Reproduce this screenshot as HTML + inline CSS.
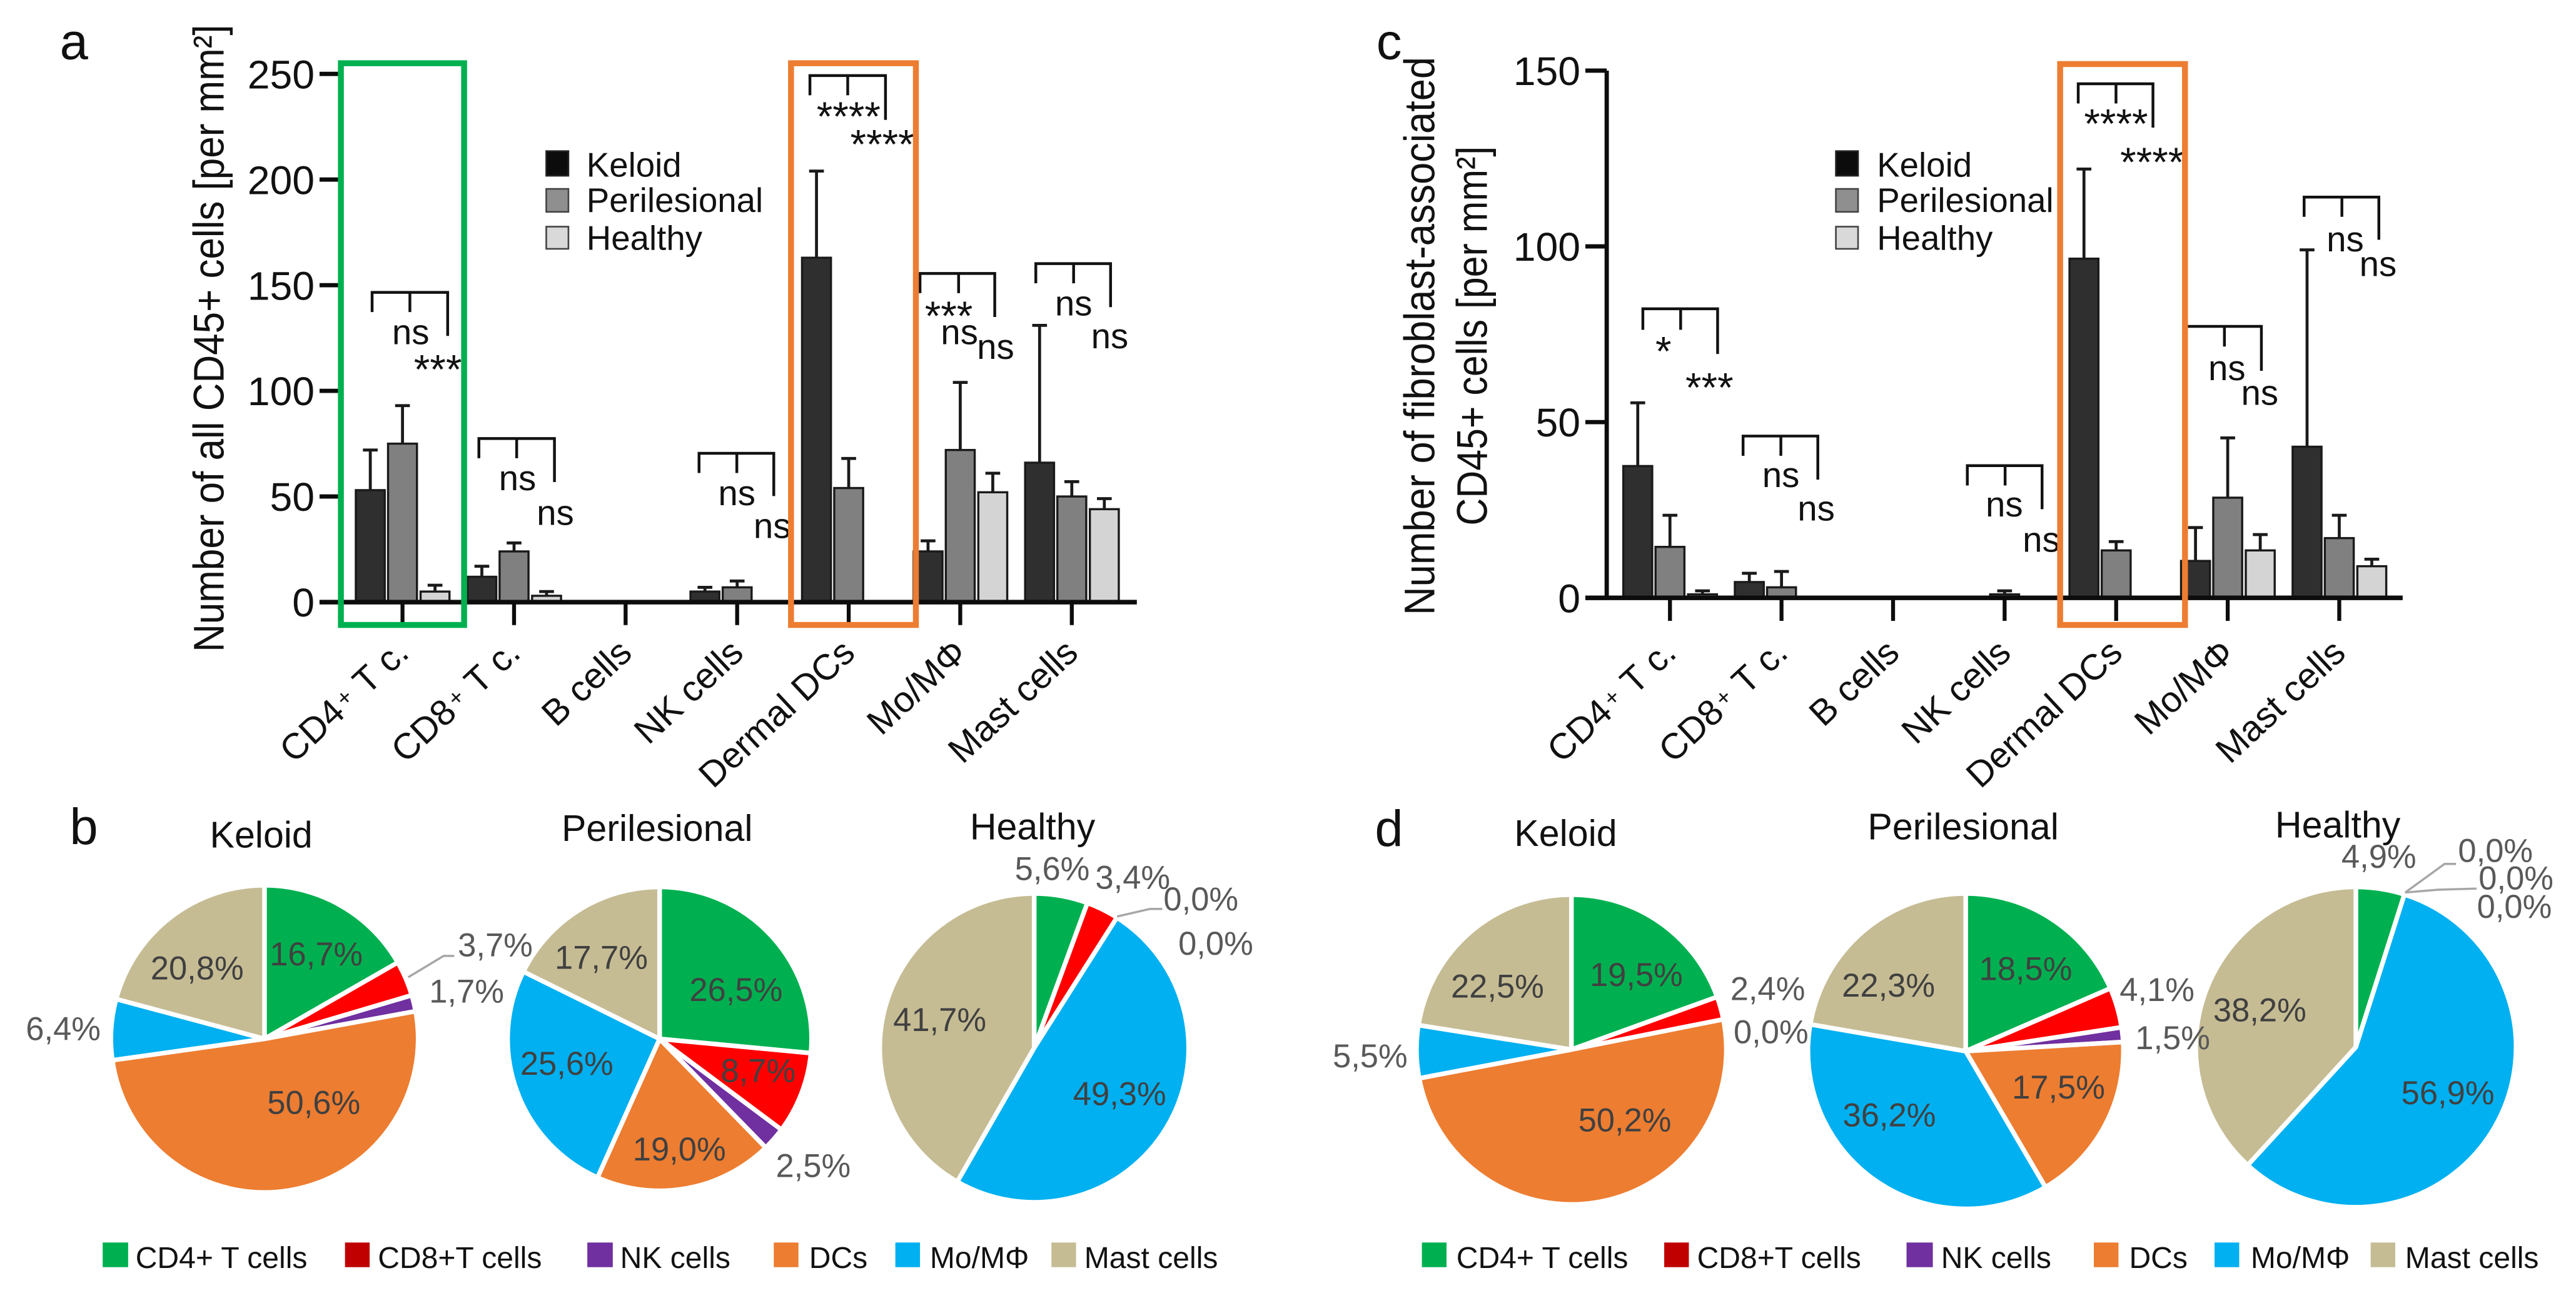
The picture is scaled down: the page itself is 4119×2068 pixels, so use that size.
<!DOCTYPE html>
<html lang="en">
<head>
<meta charset="utf-8">
<title>Immune cell densities in keloid, perilesional and healthy skin</title>
<style>
html,body{margin:0;padding:0;background:#fff;}
svg{display:block;}
text{font-family:"Liberation Sans",sans-serif;fill:#111;}
.ns{font-size:21.5px;text-anchor:middle;}
.st{font-size:25px;text-anchor:middle;transform:translateY(-2px);}
.pct{font-size:20px;text-anchor:middle;fill:#404040;}
.out{font-size:20px;text-anchor:middle;fill:#595959;}
.ttl{font-size:22.5px;text-anchor:middle;}
.let{font-size:31px;text-anchor:middle;}
.leg{font-size:20.8px;}
.pleg{font-size:18.3px;}
.axt{font-size:26px;text-anchor:middle;}
.br{fill:none;stroke:#111;stroke-width:1.7;}
.lead{fill:none;stroke:#a6a6a6;stroke-width:1.3;}
</style>
</head>
<body>
<svg id="figure" xmlns="http://www.w3.org/2000/svg" width="4119" height="2068" viewBox="0 0 1568 787.23">
<rect x="0" y="0" width="1568" height="788" fill="#fff"/>

<text class="let" x="45" y="36">a</text>
<text class="let" x="51" y="514">b</text>
<text class="let" x="845.5" y="36">c</text>
<text class="let" x="845.5" y="515">d</text>

<text class="axt" transform="translate(136 206) rotate(-90)" textLength="382" lengthAdjust="spacingAndGlyphs">Number of all CD45+ cells [per mm²]</text>
<text class="axt" transform="translate(873 204.6) rotate(-90)" textLength="340" lengthAdjust="spacingAndGlyphs">Number of fibroblast-associated</text>
<text class="axt" transform="translate(905 204.5) rotate(-90)" textLength="231" lengthAdjust="spacingAndGlyphs">CD45+ cells [per mm²]</text>

<g id="chart-a"></g>
<g id="chart-c"></g>

<g>
<path class="br" d="M226.5 190V178H272.5V204.5M249.5 178V190"/>
<path class="br" d="M291.5 279V267H337.5V293.5M314.5 267V279"/>
<path class="br" d="M425.5 288V276H471V302M448.5 276V288"/>
<path class="br" d="M493 58V46H539V73M516 46V58"/>
<path class="br" d="M560 178.5V166.5H605.5V193M583.5 166.5V178.5"/>
<path class="br" d="M630.5 172.5V160.5H676V187M653.5 160.5V172.5"/>
<text class="ns" x="250" y="209.5">ns</text>
<text class="st" x="266.5" y="235.5">***</text>
<text class="ns" x="315" y="298.5">ns</text>
<text class="ns" x="338" y="319.5">ns</text>
<text class="ns" x="448.5" y="307.5">ns</text>
<text class="ns" x="470" y="327.5">ns</text>
<text class="st" x="516.5" y="81.5">****</text>
<text class="st" x="537" y="98.5">****</text>
<text class="st" x="577.5" y="203">***</text>
<text class="ns" x="584" y="209.5">ns</text>
<text class="ns" x="606" y="218.5">ns</text>
<text class="ns" x="653.5" y="192">ns</text>
<text class="ns" x="675.5" y="212">ns</text>
</g>

<g>
<path class="br" d="M1000 200.8V188H1045.5V215.5M1023 188V200.8"/>
<path class="br" d="M1061 277.5V265.5H1106.5V292M1084 265.5V277.5"/>
<path class="br" d="M1197.5 295.6V283.5H1243V310M1220.5 283.5V295.6"/>
<path class="br" d="M1265 63V51H1310.5V77.7M1288 51V63"/>
<path class="br" d="M1330 211V198.7H1376.5V225.8M1354 198.7V211"/>
<path class="br" d="M1402.5 132V120H1448V146M1425.5 120V132"/>
<text class="st" x="1012.5" y="224.5">*</text>
<text class="st" x="1040.5" y="246.5">***</text>
<text class="ns" x="1084" y="296.5">ns</text>
<text class="ns" x="1105.5" y="317">ns</text>
<text class="ns" x="1220" y="314.5">ns</text>
<text class="ns" x="1242.5" y="336">ns</text>
<text class="st" x="1288" y="86">****</text>
<text class="st" x="1310" y="109.3">****</text>
<text class="ns" x="1355.5" y="231.5">ns</text>
<text class="ns" x="1375.5" y="246.5">ns</text>
<text class="ns" x="1427.5" y="153">ns</text>
<text class="ns" x="1447.5" y="168">ns</text>
</g>

<rect x="207.5" y="38.5" width="75" height="342" fill="none" stroke="#00b050" stroke-width="3.6"/>
<rect x="481.5" y="38.5" width="76" height="342" fill="none" stroke="#ed7d31" stroke-width="3.6"/>
<rect x="1254" y="39" width="76" height="341.5" fill="none" stroke="#ed7d31" stroke-width="3.6"/>

<g>
<rect x="332.5" y="92" width="13.5" height="15" fill="#0c0c0c" stroke="#222" stroke-width="1"/>
<rect x="332.5" y="115" width="13.5" height="14" fill="#8f8f8f" stroke="#444" stroke-width="1"/>
<rect x="332.5" y="138" width="13.5" height="13.5" fill="#d9d9d9" stroke="#444" stroke-width="1"/>
<text class="leg" x="357" y="107.5">Keloid</text>
<text class="leg" x="357" y="129">Perilesional</text>
<text class="leg" x="357" y="152">Healthy</text>
</g>
<g>
<rect x="1117.5" y="92" width="13.5" height="15" fill="#0c0c0c" stroke="#222" stroke-width="1"/>
<rect x="1117.5" y="115" width="13.5" height="14" fill="#8f8f8f" stroke="#444" stroke-width="1"/>
<rect x="1117.5" y="138" width="13.5" height="13.5" fill="#d9d9d9" stroke="#444" stroke-width="1"/>
<text class="leg" x="1142.5" y="107.5">Keloid</text>
<text class="leg" x="1142.5" y="129">Perilesional</text>
<text class="leg" x="1142.5" y="152">Healthy</text>
</g>

<g id="pies"></g>

<text class="ttl" x="159" y="516">Keloid</text>
<text class="ttl" x="400" y="512">Perilesional</text>
<text class="ttl" x="628.5" y="511">Healthy</text>
<text class="ttl" x="953" y="515">Keloid</text>
<text class="ttl" x="1195" y="511">Perilesional</text>
<text class="ttl" x="1423" y="510">Healthy</text>

<g>
<path class="lead" d="M248.5 595L270 582H276.5"/>
<path class="lead" d="M680 558L700 553.4H707.5"/>
<text class="pct" x="192.5" y="587.8">16,7%</text>
<text class="out" x="301.5" y="582.3">3,7%</text>
<text class="out" x="284" y="610.5">1,7%</text>
<text class="pct" x="191" y="678.2">50,6%</text>
<text class="out" x="38.5" y="633.2">6,4%</text>
<text class="pct" x="120" y="596.4">20,8%</text>
<text class="pct" x="448" y="609.5">26,5%</text>
<text class="pct" x="461.5" y="658.8">8,7%</text>
<text class="out" x="495" y="716.6">2,5%</text>
<text class="pct" x="413.5" y="706.5">19,0%</text>
<text class="pct" x="345" y="654.3">25,6%</text>
<text class="pct" x="366" y="589.8">17,7%</text>
<text class="out" x="640.5" y="535.8">5,6%</text>
<text class="out" x="689.5" y="541.1">3,4%</text>
<text class="out" x="731" y="554.2">0,0%</text>
<text class="out" x="740" y="581.3">0,0%</text>
<text class="pct" x="681.5" y="672.8">49,3%</text>
<text class="pct" x="572" y="627.8">41,7%</text>
</g>
<g>
<path class="lead" d="M1464 543.4L1488 526H1495"/>
<path class="lead" d="M1464 543.4L1484 541.7L1507.5 541"/>
<text class="pct" x="996" y="600.4">19,5%</text>
<text class="out" x="1076" y="608.8">2,4%</text>
<text class="out" x="1078" y="635.2">0,0%</text>
<text class="pct" x="989" y="688.8">50,2%</text>
<text class="out" x="834" y="649.8">5,5%</text>
<text class="pct" x="911.5" y="607.4">22,5%</text>
<text class="pct" x="1233" y="596.8">18,5%</text>
<text class="out" x="1313" y="609.4">4,1%</text>
<text class="out" x="1322.5" y="638.8">1,5%</text>
<text class="pct" x="1253" y="668.8">17,5%</text>
<text class="pct" x="1150" y="685.8">36,2%</text>
<text class="pct" x="1149.5" y="606.8">22,3%</text>
<text class="out" x="1448" y="528.4">4,9%</text>
<text class="out" x="1519" y="524.8">0,0%</text>
<text class="out" x="1531.5" y="541.5">0,0%</text>
<text class="out" x="1530.5" y="558.8">0,0%</text>
<text class="pct" x="1490" y="672.2">56,9%</text>
<text class="pct" x="1375.5" y="621.8">38,2%</text>
</g>

<g>
<rect x="62.5" y="756.5" width="15.5" height="15" fill="#00b050"/>
<rect x="210" y="756.5" width="15" height="15" fill="#c00000"/>
<rect x="357.5" y="756.5" width="15.5" height="15" fill="#7030a0"/>
<rect x="471" y="756.5" width="15" height="15" fill="#ed7d31"/>
<rect x="545" y="756.5" width="15" height="15" fill="#00b0f0"/>
<rect x="640" y="756.5" width="15" height="15" fill="#c6bc94"/>
<text class="pleg" x="82.5" y="772">CD4+ T cells</text>
<text class="pleg" x="230" y="772">CD8+T cells</text>
<text class="pleg" x="377.5" y="772">NK cells</text>
<text class="pleg" x="492.5" y="772">DCs</text>
<text class="pleg" x="566" y="772">Mo/MΦ</text>
<text class="pleg" x="660" y="772">Mast cells</text>
</g>
<g>
<rect x="865.5" y="756.5" width="15" height="15" fill="#00b050"/>
<rect x="1013" y="756.5" width="15" height="15" fill="#c00000"/>
<rect x="1160.5" y="756.5" width="16" height="15" fill="#7030a0"/>
<rect x="1274.5" y="756.5" width="15" height="15" fill="#ed7d31"/>
<rect x="1348" y="756.5" width="15" height="15" fill="#00b0f0"/>
<rect x="1443" y="756.5" width="15" height="15" fill="#c6bc94"/>
<text class="pleg" x="886.5" y="772">CD4+ T cells</text>
<text class="pleg" x="1033" y="772">CD8+T cells</text>
<text class="pleg" x="1181.5" y="772">NK cells</text>
<text class="pleg" x="1296" y="772">DCs</text>
<text class="pleg" x="1370" y="772">Mo/MΦ</text>
<text class="pleg" x="1464" y="772">Mast cells</text>
</g>
</svg>

<script>
const categories = ["CD4+ T c.", "CD8+ T c.", "B cells", "NK cells", "Dermal DCs", "Mo/MΦ", "Mast cells"];

const aTicks = [0, 50, 100, 150, 200, 250];
const aKeloid = [53, 12, 0, 5, 163, 24, 66];
const aPerilesional = [75, 24, 0, 7, 54, 72, 50];
const aHealthy = [5, 3, 0, 0, 0, 52, 44];
const aKeloidSd = [19, 5, 0, 2, 41, 5, 65];
const aPerilesionalSd = [18, 4, 0, 3, 14, 32, 7];
const aHealthySd = [3, 2, 0, 0, 0, 9, 5];

const cTicks = [0, 50, 100, 150];
const cKeloid = [37.5, 4.5, 0, 0, 96.5, 10.5, 43];
const cPerilesional = [14.5, 3, 0, 1, 13.5, 28.5, 17];
const cHealthy = [1, 0, 0, 0, 0, 13.5, 9];
const cKeloidSd = [18, 2.5, 0, 0, 25.5, 9.5, 56];
const cPerilesionalSd = [9, 4.5, 0, 1, 2.5, 17, 6.5];
const cHealthySd = [1, 0, 0, 0, 0, 4.5, 2];

const sliceNames = ["cd4", "cd8", "nk", "dcs", "mo", "mast"];
const sliceColors = ["#00b050", "#ff0000", "#7030a0", "#ed7d31", "#00b0f0", "#c6bc94"];
const bKeloid = [16.7, 3.7, 1.7, 50.6, 6.4, 20.8];
const bPerilesional = [26.5, 8.7, 2.5, 19.0, 25.6, 17.7];
const bHealthy = [5.6, 3.4, 0.0, 0.0, 49.3, 41.7];
const dKeloid = [19.5, 2.4, 0.0, 50.2, 5.5, 22.5];
const dPerilesional = [18.5, 4.1, 1.5, 17.5, 36.2, 22.3];
const dHealthy = [4.9, 0.0, 0.0, 0.0, 56.9, 38.2];

const NS = "http://www.w3.org/2000/svg";

function mk(tag, parent, attrs) {
  const el = document.createElementNS(NS, tag);
  for (const k in attrs) el.setAttribute(k, attrs[k]);
  parent.appendChild(el);
  return el;
}

function drawBarSeries(g, name, means, sds, fill, offset, xFn, yFn) {
  means.forEach(function (v, i) {
    const cx = xFn(i) + offset;
    const top = yFn(v);
    const base = yFn(0);
    const bar = mk("rect", g, { x: cx - 8.8, y: top, width: 17.6, height: base - top, fill: fill, stroke: "#1a1a1a", "stroke-width": 1.3 });
    
    
    const errY = yFn(v + sds[i]);
    const err = mk("path", g, { d: "M" + cx + " " + top + "V" + errY + "M" + (cx - 4.5) + " " + errY + "H" + (cx + 4.5), fill: "none", stroke: "#1a1a1a", "stroke-width": 1.8 });
    
    
  });
}

function drawBarChart(g, cfg) {
  const xFn = function (i) { return cfg.x0 + i * cfg.step; };
  const yFn = function (v) { return cfg.y0 - v * (cfg.y0 - cfg.yMax) / cfg.vMax; };
  drawBarSeries(g, "keloid", cfg.k, cfg.kSd, "#2f2f2f", -19.6, xFn, yFn);
  drawBarSeries(g, "perilesional", cfg.p, cfg.pSd, "#808080", 0, xFn, yFn);
  drawBarSeries(g, "healthy", cfg.h, cfg.hSd, "#d4d4d4", 19.8, xFn, yFn);

  const yAxis = mk("line", g, { x1: cfg.yAxisX, x2: cfg.yAxisX, y1: yFn(cfg.vMax), y2: cfg.y0, stroke: "#0c0c0c", "stroke-width": 2.6 });
  
  
  const xAxis = mk("line", g, { x1: cfg.yAxisX - 13, x2: cfg.xEnd, y1: cfg.y0, y2: cfg.y0, stroke: "#0c0c0c", "stroke-width": 2.8 });
  
  

  cfg.ticks.forEach(function (t) {
    const tick = mk("line", g, { x1: cfg.yAxisX - 13, x2: cfg.yAxisX, y1: yFn(t), y2: yFn(t), stroke: "#0c0c0c", "stroke-width": 2.6 });
    
    
    const lab = mk("text", g, { x: cfg.yAxisX - 16, y: yFn(t) + 8.8, "text-anchor": "end", "font-size": 24.5 });
    
    
    lab.textContent = String(t);
  });

  categories.forEach(function (c, i) {
    const x = xFn(i);
    const tick = mk("line", g, { x1: x, x2: x, y1: cfg.y0, y2: cfg.y0 + 14, stroke: "#0c0c0c", "stroke-width": 2.4 });
    
    
    const lx = x + 5;
    const ly = 399;
    const lab = mk("text", g, { x: lx, y: ly, "text-anchor": "end", "font-size": 22, transform: "rotate(-43 " + lx + " " + ly + ")" });
    
    
    const plus = c.indexOf("+");
    if (plus >= 0) {
      lab.appendChild(document.createTextNode(c.slice(0, plus)));
      const sup = mk("tspan", lab, { "font-size": 14, dy: -4, dx: 2 });
      sup.textContent = "+";
      const rest = mk("tspan", lab, { dy: 4, dx: 1 });
      rest.textContent = c.slice(plus + 1);
    } else {
      lab.textContent = c;
    }
  });
}

function drawPie(g, name, values, cx, cy, r) {
  const total = values.reduce(function (a, b) { return a + b; }, 0);
  let acc = 0;
  values.forEach(function (v, i) {
    const a0 = acc / total * 2 * Math.PI;
    acc += v;
    const a1 = acc / total * 2 * Math.PI;
    if (v <= 0) return;
    const x0 = cx + r * Math.sin(a0), y0 = cy - r * Math.cos(a0);
    const x1 = cx + r * Math.sin(a1), y1 = cy - r * Math.cos(a1);
    const large = (a1 - a0) > Math.PI ? 1 : 0;
    const d = "M" + cx + " " + cy + "L" + x0 + " " + y0 + "A" + r + " " + r + " 0 " + large + " 1 " + x1 + " " + y1 + "Z";
    const slice = mk("path", g, { d: d, fill: sliceColors[i], stroke: "#fff", "stroke-width": 2.8, "stroke-linejoin": "round" });
    
    
  });
}

drawBarChart(document.getElementById("chart-a"), {
  x0: 245, step: 67.9, y0: 366.6, yMax: 45, vMax: 250, yAxisX: 207.5, xEnd: 692, ticks: aTicks,
  k: aKeloid, p: aPerilesional, h: aHealthy, kSd: aKeloidSd, pSd: aPerilesionalSd, hSd: aHealthySd
});
drawBarChart(document.getElementById("chart-c"), {
  x0: 1016.5, step: 67.9, y0: 364, yMax: 43, vMax: 150, yAxisX: 978, xEnd: 1462.5, ticks: cTicks,
  k: cKeloid, p: cPerilesional, h: cHealthy, kSd: cKeloidSd, pSd: cPerilesionalSd, hSd: cHealthySd
});

const pieGroup = document.getElementById("pies");
drawPie(pieGroup, "b-keloid", bKeloid, 161, 632.5, 93.5);
drawPie(pieGroup, "b-perilesional", bPerilesional, 401.5, 632.5, 92.5);
drawPie(pieGroup, "b-healthy", bHealthy, 629.5, 638, 94);
drawPie(pieGroup, "d-keloid", dKeloid, 956.5, 639, 94.3);
drawPie(pieGroup, "d-perilesional", dPerilesional, 1196.5, 640, 96);
drawPie(pieGroup, "d-healthy", dHealthy, 1434, 637.5, 97.5);
</script>
</body>
</html>
